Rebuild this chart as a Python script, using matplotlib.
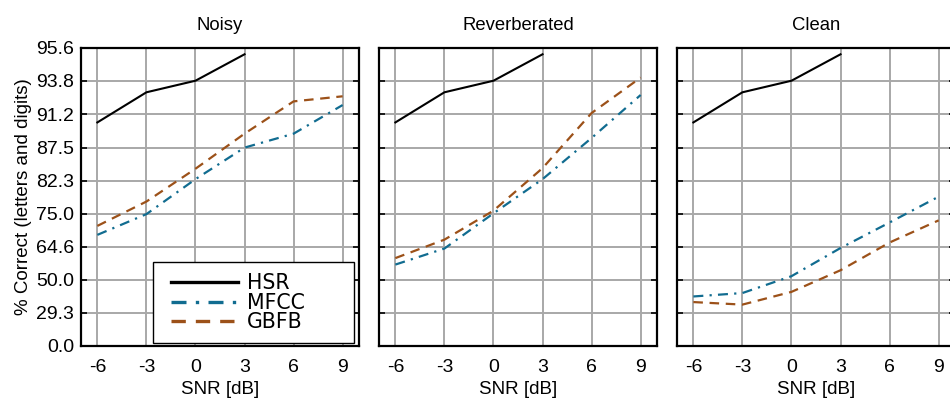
import numpy as np
import matplotlib.pyplot as plt
from matplotlib.lines import Line2D
from matplotlib.legend_handler import HandlerLine2D

# word recognition rates (% correct) vs SNR for each condition
snr = [-6, -3, 0, 3, 6, 9]
conditions = ['Noisy', 'Reverberated', 'Clean']

hsr = [90.4, 93.0, 93.8, 95.3]  # human listeners, -6..3 dB only

mfcc = {
    'Noisy':        [68.8, 74.9, 82.6, 87.5, 89.2, 92.0],
    'Reverberated': [57.4, 64.0, 75.1, 82.6, 88.7, 92.8],
    'Clean':        [40.5, 42.6, 51.9, 64.2, 72.6, 79.1],
}
gbfb = {
    'Noisy':        [71.6, 78.0, 84.4, 89.2, 92.3, 92.7],
    'Reverberated': [60.2, 67.2, 75.8, 84.5, 91.3, 94.0],
    'Clean':        [36.9, 35.2, 43.3, 54.8, 66.2, 73.2],
}

y_ticks = [0.0, 29.3, 50.0, 64.6, 75.0, 82.3, 87.5, 91.2, 93.8, 95.6]
y_ticklabels = ['0.0', '29.3', '50.0', '64.6', '75.0', '82.3', '87.5', '91.2', '93.8', '95.6']

c_mfcc = '#116c90'
c_gbfb = '#9c5119'


# error rate on a log axis: each tick halves the error by sqrt(2)
def fwd(p):
    p = np.asarray(p, dtype=float)
    return -2 * np.log2(np.clip(1 - p / 100.0, 1e-6, None))


def inv(k):
    k = np.asarray(k, dtype=float)
    return 100.0 * (1 - 2.0 ** (-k / 2))


plt.rcParams['font.family'] = ['Liberation Sans', 'DejaVu Sans']

fig = plt.figure(figsize=(9.5, 4), dpi=100)
lefts = [81, 379, 677]
W, H = 278, 298
bottom = 54

for i, (left, cond) in enumerate(zip(lefts, conditions)):
    ax = fig.add_axes([left / 950, bottom / 400, W / 950, H / 400])
    ax.set_yscale('function', functions=(fwd, inv))
    ax.set_ylim(0, 95.6)
    ax.set_xlim(-7, 10)

    ax.plot(snr[:4], hsr, color='black', lw=1.5, label='HSR')
    ax.plot(snr, mfcc[cond], color=c_mfcc, lw=1.6, dashes=(4.5, 2.8, 1, 2.8), label='MFCC')
    ax.plot(snr, gbfb[cond], color=c_gbfb, lw=1.6, dashes=(4.3, 3), label='GBFB')

    ax.set_xticks(snr)
    ax.set_xticklabels([str(s) for s in snr])
    ax.set_yticks(y_ticks)
    ax.minorticks_off()
    if i == 0:
        ax.set_yticklabels(y_ticklabels)
        ax.set_ylabel('% Correct (letters and digits)', fontsize=13.5, labelpad=3)
    else:
        ax.set_yticklabels([])

    ax.grid(True, color='#a8a8a8', lw=1.4)
    ax.set_axisbelow(True)
    ax.tick_params(axis='both', direction='in', length=4, width=1.2, labelsize=14,
                   left=True, right=True, top=False, bottom=False)
    ax.tick_params(axis='x', pad=9)
    ax.tick_params(axis='y', pad=5)
    for sp in ax.spines.values():
        sp.set_linewidth(1.6)

    ax.set_title(cond, fontsize=13.3, pad=13)
    ax.set_xlabel('SNR [dB]', fontsize=13.5, labelpad=4)

    if i == 0:
        leg = ax.legend(loc='lower left', bbox_to_anchor=(0.259, 0.01, 0.723, 0.27),
                        mode='expand',
                        prop={'family': 'DejaVu Sans', 'size': 14.8},
                        handler_map={Line2D: HandlerLine2D(xpad=0.34)},
                        frameon=True, fancybox=False, framealpha=1,
                        edgecolor='black', handlelength=3.6, handletextpad=0.45,
                        labelspacing=-0.02, borderpad=0.52, borderaxespad=0)
        leg.get_frame().set_linewidth(1.0)
        for h in leg.get_lines():
            h.set_linewidth(2.4)

fig.savefig('out.png', dpi=100)
